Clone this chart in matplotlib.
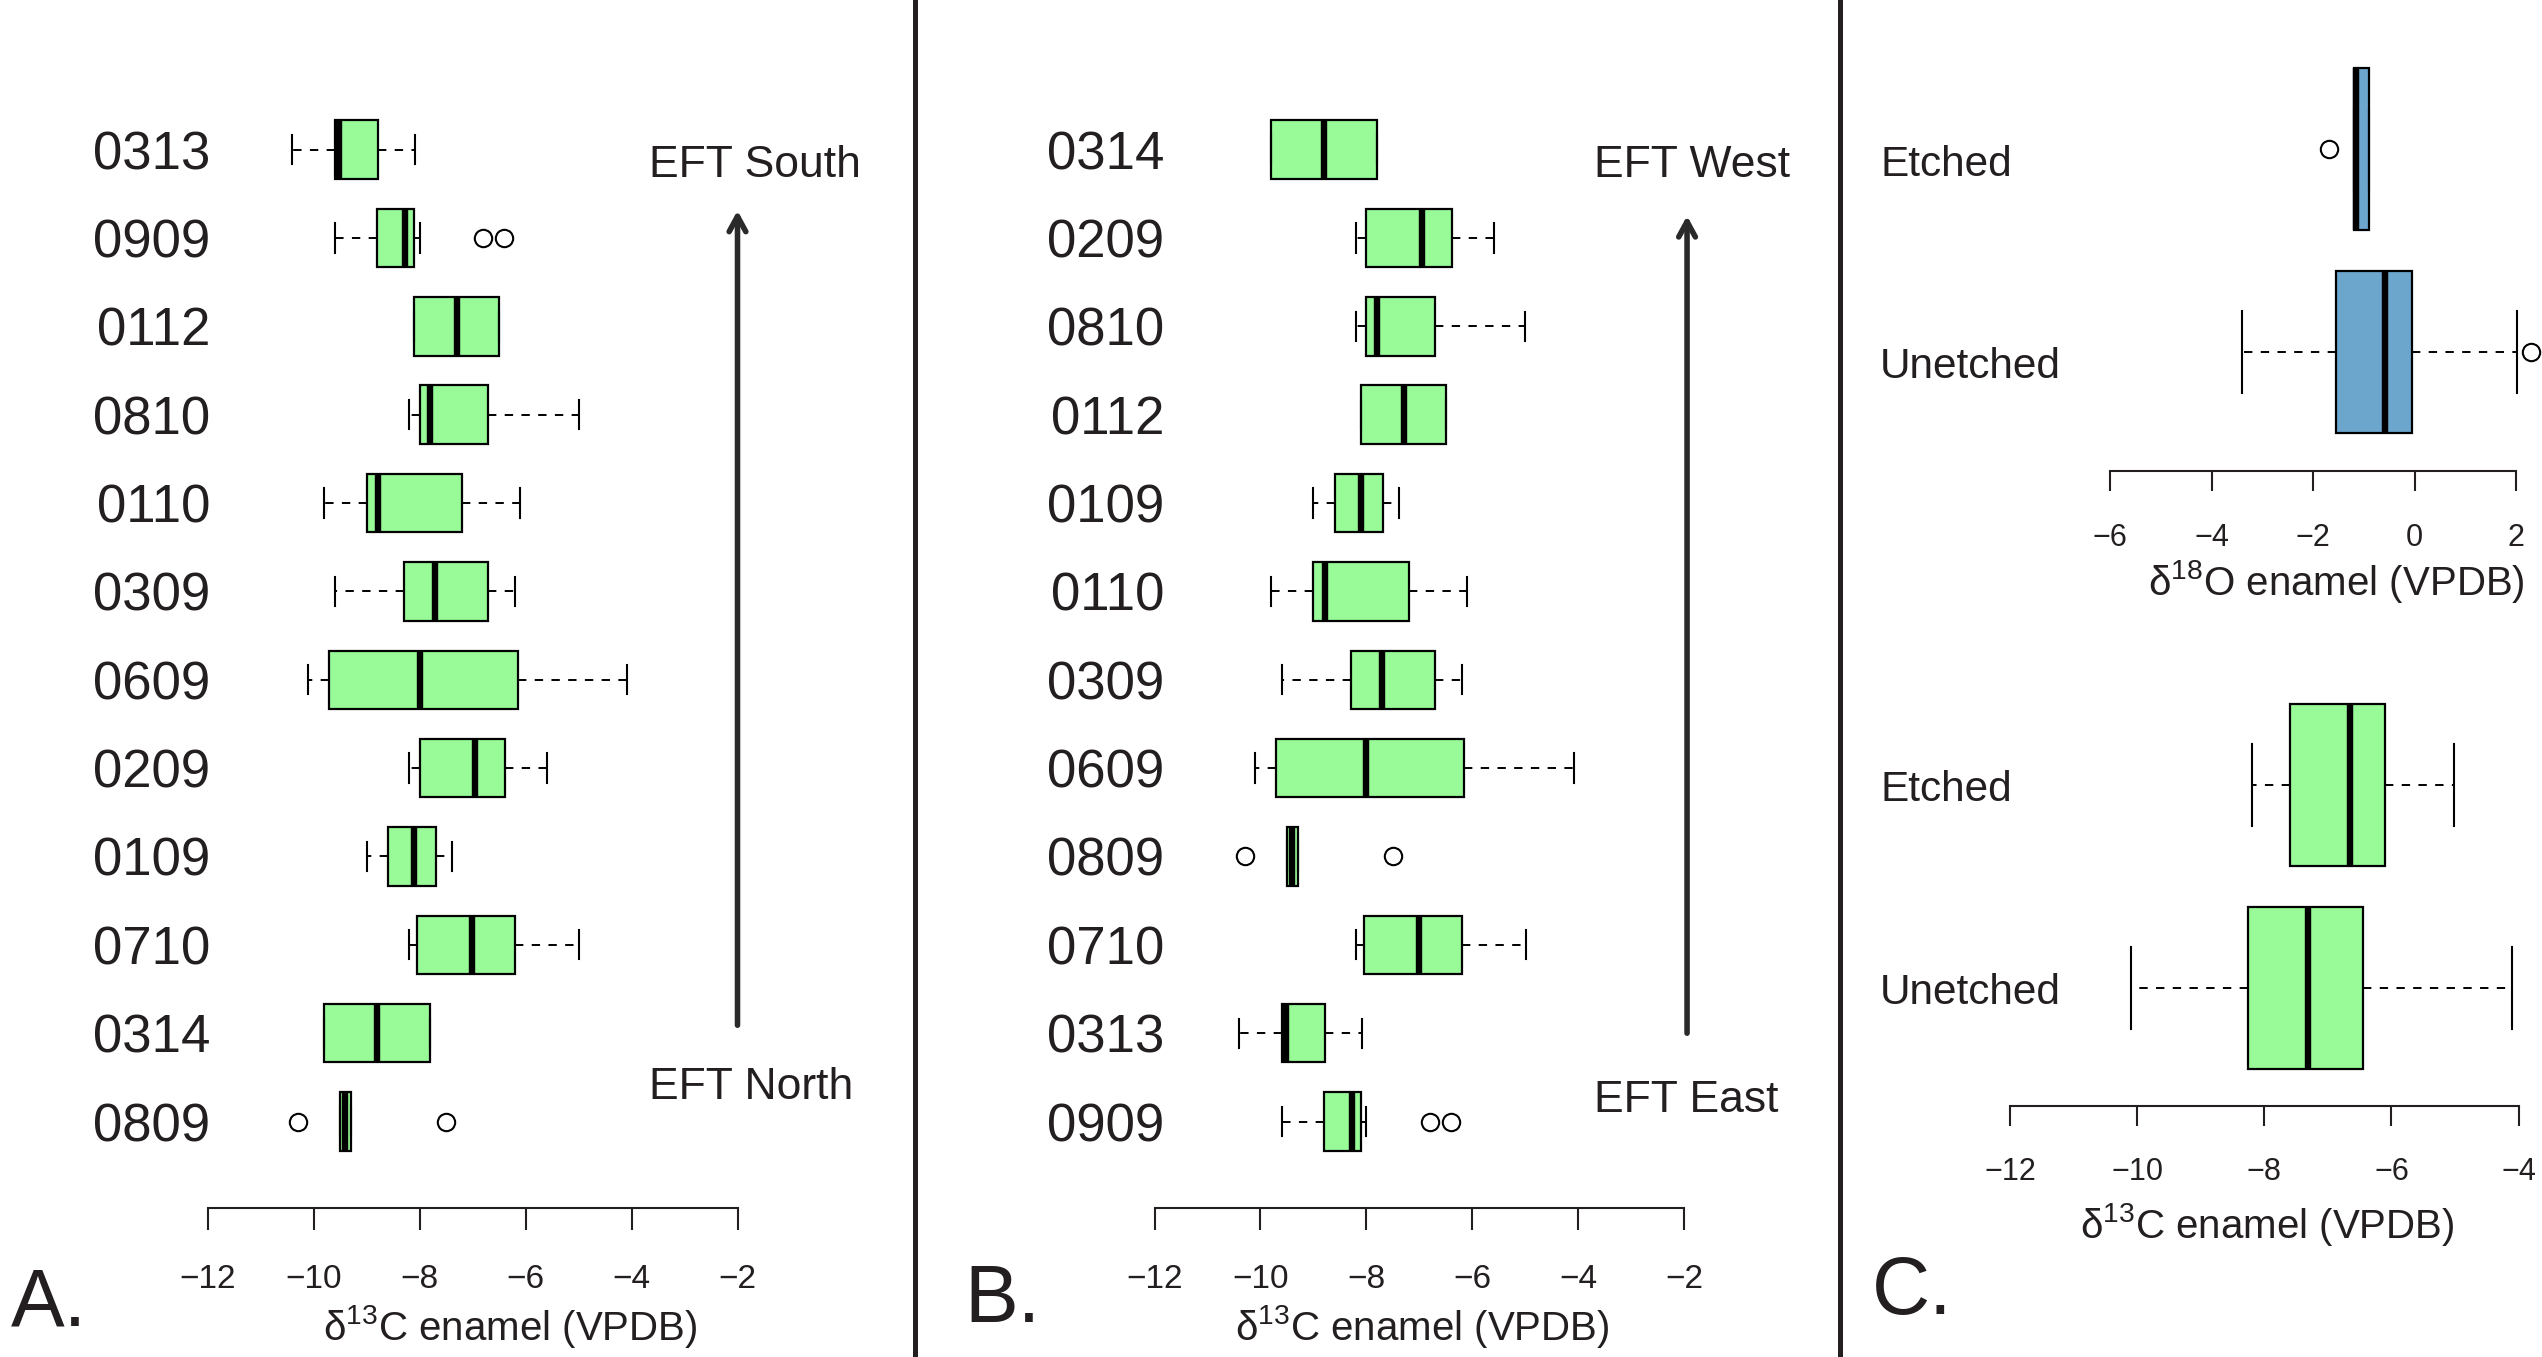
import numpy as np
import matplotlib
matplotlib.use('Agg')
import matplotlib.pyplot as plt
import matplotlib.transforms as mtransforms
from matplotlib.lines import Line2D

plt.rcParams['font.family'] = ['Liberation Sans', 'DejaVu Sans']
plt.rcParams['mathtext.fontset'] = 'custom'
plt.rcParams['mathtext.rm'] = 'Liberation Sans'
INK = '#231f20'
GREEN = '#98fb98'
BLUE = '#6ca6cd'

# --- data: d13C enamel per sample (box stats) ---
sample_ids = ['0313', '0909', '0112', '0810', '0110', '0309',
              '0609', '0209', '0109', '0710', '0314', '0809']
c13_whislo = [-10.40, -9.60, -8.10, -8.20, -9.80, -9.60, -10.10, -8.20, -9.00, -8.19, -9.80, -9.50]
c13_q1 = [-9.60, -8.80, -8.10, -8.00, -9.00, -8.29, -9.70, -8.00, -8.59, -8.05, -9.80, -9.50]
c13_med = [-9.51, -8.27, -7.30, -7.80, -8.79, -7.70, -8.00, -6.95, -8.10, -7.01, -8.80, -9.40]
c13_q3 = [-8.79, -8.10, -6.50, -6.70, -7.20, -6.70, -6.15, -6.39, -7.69, -6.20, -7.80, -9.30]
c13_whishi = [-8.09, -8.00, -6.50, -5.00, -6.10, -6.20, -4.09, -5.59, -7.39, -4.99, -7.80, -9.30]
c13_fliers = [[], [-6.80, -6.40], [], [], [], [], [], [], [], [], [], [-10.30, -7.50]]

# top-to-bottom order of each panel
order_south_north = ['0313', '0909', '0112', '0810', '0110', '0309',
                     '0609', '0209', '0109', '0710', '0314', '0809']
order_west_east = ['0314', '0209', '0810', '0112', '0109', '0110',
                   '0309', '0609', '0809', '0710', '0313', '0909']

# --- data: etched vs unetched ---
treatments = ['Etched', 'Unetched']
o18_whislo = [-1.20, -3.39]
o18_q1 = [-1.20, -1.54]
o18_med = [-1.15, -0.59]
o18_q3 = [-0.89, -0.04]
o18_whishi = [-0.89, 2.01]
o18_fliers = [[-1.69], [2.30]]

tc13_whislo = [-8.20, -10.09]
tc13_q1 = [-7.60, -8.25]
tc13_med = [-6.65, -7.31]
tc13_q3 = [-6.10, -6.45]
tc13_whishi = [-5.01, -4.11]
tc13_fliers = [[], []]

W, H = 2542, 1357
fig = plt.figure(figsize=(W / 100, H / 100), dpi=100)


def px_axes(left, top, right, bottom):
    return fig.add_axes([left / W, 1 - bottom / H, (right - left) / W, (bottom - top) / H])


def make_stats(idx, wlo, q1, med, q3, whi, fl):
    return [dict(whislo=wlo[i], q1=q1[i], med=med[i], q3=q3[i], whishi=whi[i], fliers=fl[i])
            for i in idx]


def draw_boxes(ax, stats, color, width):
    n = len(stats)
    art = ax.bxp(stats, positions=np.arange(n), widths=width, capwidths=width / 2,
                 orientation='horizontal', patch_artist=True, manage_ticks=False,
                 boxprops=dict(facecolor=color, edgecolor='black', linewidth=1.6),
                 medianprops=dict(color='black', linewidth=4.6, solid_capstyle='butt'),
                 whiskerprops=dict(color='black', linewidth=1.4, linestyle=(0, (4.3, 4.3))),
                 capprops=dict(color='black', linewidth=1.5),
                 flierprops=dict(marker='o', markerfacecolor='none', markeredgecolor='black',
                                 markersize=12.5, markeredgewidth=1.5))
    for group in art.values():
        for a in group:
            a.set_clip_on(False)
    ax.set_ylim(n - 0.5, -0.5)


def style_axis(ax, lo, hi, outward, ticklen, pad, fs):
    for s in ['top', 'left', 'right']:
        ax.spines[s].set_visible(False)
    ax.spines['bottom'].set_position(('outward', outward))
    ax.spines['bottom'].set_bounds(lo, hi)
    ax.spines['bottom'].set_linewidth(1.5)
    ax.spines['bottom'].set_color(INK)
    ax.set_xlim(lo, hi)
    ax.set_xticks(np.arange(lo, hi + 1, 2))
    ax.tick_params(axis='x', direction='out', length=ticklen, width=1.5, pad=pad,
                   labelsize=fs, colors=INK)
    ax.patch.set_visible(False)


def iso_label(mass, elem):
    return r'δ$\mathregular{^{%s}}$%s enamel (VPDB)' % (mass, elem)


# ---- panels A and B ----
idx = {s: i for i, s in enumerate(sample_ids)}
panels = [
    (order_south_north, 207.5, 737.5, -2, 'EFT South', 'EFT North',
     (-1.67, 0.31), (-1.74, 10.74), (-2.0, 0.69, 9.91), (510, 1326), (11, 1326), 'A.'),
    (order_west_east, 1154.5, 1684.4, -7, 'EFT West', 'EFT East',
     (-1.86, 0.31), (-1.97, 10.89), (-1.95, 0.75, 10.0), (1422, 1326), (964, 1322), 'B.'),
]
row_h = 88.36
for order, x0, x1, lpad, top_txt, bot_txt, tpos, bpos, arr, xlab, letpos, letter in panels:
    n = len(order)
    top = 149.6 - row_h / 2
    ax = px_axes(x0, top, x1, top + n * row_h)
    stats = make_stats([idx[s] for s in order], c13_whislo, c13_q1, c13_med,
                       c13_q3, c13_whishi, c13_fliers)
    draw_boxes(ax, stats, GREEN, 0.662)
    style_axis(ax, -12, -2, 30.2, 16, 24.5, 24)
    ax.set_yticks(np.arange(n), order)
    ax.tick_params(axis='y', length=0, pad=lpad, labelsize=38, colors=INK)
    ax.annotate('', xy=(arr[0], arr[1]), xytext=(arr[0], arr[2]), annotation_clip=False,
                arrowprops=dict(arrowstyle='->,head_length=0.55,head_width=0.3',
                                lw=4, color='#2a2a2a', mutation_scale=20,
                                shrinkA=0, shrinkB=0))
    ax.text(tpos[0], tpos[1], top_txt, ha='center', va='baseline', fontsize=32,
            color=INK, clip_on=False)
    ax.text(bpos[0], bpos[1], bot_txt, ha='center', va='baseline', fontsize=32,
            color=INK, clip_on=False)
    fig.text(xlab[0] / W, 1 - xlab[1] / H, iso_label('13', 'C'),
             ha='center', va='center', fontsize=29, color=INK)
    fig.text(letpos[0] / W, 1 - letpos[1] / H, letter, ha='left', va='baseline',
             fontsize=58, color=INK)

# ---- panel C ----
c_panels = [
    ((o18_whislo, o18_q1, o18_med, o18_q3, o18_whishi, o18_fliers), BLUE,
     2110, 2516, -6, 2, 149.3, 202.7, 12.35, 23.5, 0.075, 581.5, ('18', 'O'), 2336),
    ((tc13_whislo, tc13_q1, tc13_med, tc13_q3, tc13_whishi, tc13_fliers), GREEN,
     2010, 2518.6, -12, -4, 785, 203, 12.2, 22, 0.025, 1225, ('13', 'C'), 2267),
]
for data, color, x0, x1, lo, hi, first_row, rh, outward, pad, yoff, xlab_y, iso, xlab_x in c_panels:
    n = len(treatments)
    top = first_row - rh / 2
    ax = px_axes(x0, top, x1, top + n * rh)
    draw_boxes(ax, make_stats(range(n), *data), color, 0.8)
    style_axis(ax, lo, hi, outward, 14.5, pad, 22)
    ax.set_yticks([])
    trans = mtransforms.blended_transform_factory(fig.transFigure, ax.transData)
    for i, name in enumerate(treatments):
        ax.text(1880 / W, i + yoff, name, transform=trans, ha='left', va='center',
                fontsize=30.5, color=INK)
    fig.text(xlab_x / W, 1 - xlab_y / H, iso_label(*iso), ha='center', va='center',
             fontsize=29, color=INK)

fig.text(1872 / W, 1 - 1314 / H, 'C.', ha='left', va='baseline', fontsize=58, color=INK)

# panel separators
for xs in [915, 1839.5]:
    fig.add_artist(Line2D([xs / W, xs / W], [0, 1], transform=fig.transFigure,
                          color=INK, lw=3.6))

fig.savefig('out.png', dpi=100)
